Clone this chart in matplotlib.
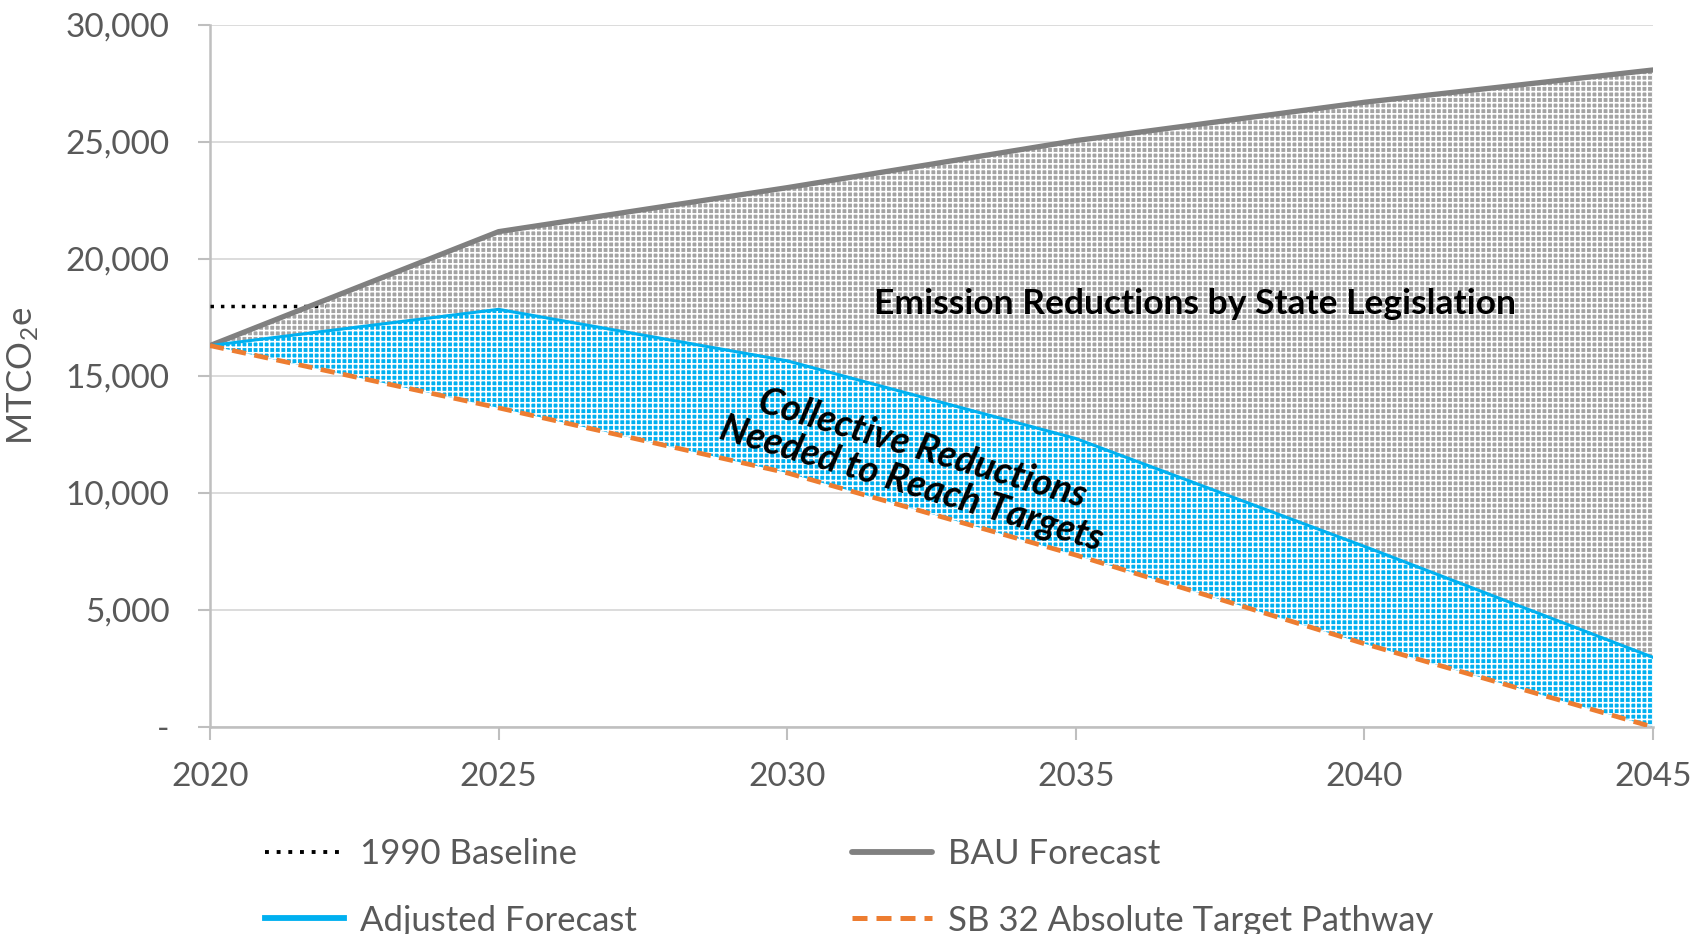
import matplotlib
matplotlib.use("Agg")
import matplotlib.pyplot as plt
from matplotlib.ticker import FuncFormatter

plt.rcParams['font.family'] = ['Lato', 'DejaVu Sans']
plt.rcParams['mathtext.fontset'] = 'custom'
plt.rcParams['mathtext.rm'] = 'Lato'
plt.rcParams['hatch.linewidth'] = 1.2

# data (MTCO2e)
years = [2020, 2025, 2030, 2035, 2040, 2045]
bau = [16300, 21170, 23050, 25060, 26700, 28080]
adjusted = [16300, 17850, 15650, 12330, 7720, 2980]
target = [16300, 13640, 10860, 7350, 3560, 0]
baseline_years = [2020, 2022]
baseline = [18000, 18000]

fig = plt.figure(figsize=(16.96, 9.34), dpi=100)
ax = fig.add_axes([0.1238, 0.2216, 0.8508, 0.7516])

# shaded bands
ax.fill_between(years, adjusted, bau, facecolor='#a3a3a3', edgecolor='white',
                hatch='+++', linewidth=0, zorder=2)
ax.fill_between(years, target, adjusted, facecolor='#00b0f0', edgecolor='white',
                hatch='+++', linewidth=0, zorder=2)

# lines
l_base, = ax.plot(baseline_years, baseline, color='black', linestyle=(0, (1, 2)),
                  lw=2.5, label='1990 Baseline', zorder=4)
l_bau, = ax.plot(years, bau, color='#808080', lw=3.8, label='BAU Forecast',
                 solid_capstyle='round', zorder=4)
l_adj, = ax.plot(years, adjusted, color='#00b0f0', lw=2.2, label='Adjusted Forecast', zorder=4)
l_tgt, = ax.plot(years, target, color='#ed7d31', lw=3.4, linestyle=(0, (3, 1.8)),
                 label='SB 32 Absolute Target Pathway', zorder=5)

ax.set_xlim(2020, 2045)
ax.set_ylim(0, 30000)
ax.set_xticks(years)
ax.set_yticks(range(0, 30001, 5000))
ax.yaxis.set_major_formatter(FuncFormatter(lambda v, p: '-' if v == 0 else f'{int(v):,}'))

ax.grid(axis='y', color='#d9d9d9', lw=1.3)
ax.set_axisbelow(True)
for s in ['top', 'right']:
    ax.spines[s].set_visible(False)
for s in ['left', 'bottom']:
    ax.spines[s].set_color('#bfbfbf')
    ax.spines[s].set_linewidth(1.8)
ax.tick_params(axis='both', colors='#bfbfbf', labelcolor='#595959', labelsize=24,
               length=9, width=1.5)
ax.tick_params(axis='y', pad=20)
ax.tick_params(axis='x', pad=16)

ax.set_ylabel('MTCO$_2$e', fontsize=25, color='#595959')
ax.yaxis.set_label_coords(-0.118, 0.5)

# annotations
ax.text(2037.07, 18080, 'Emission Reductions by State Legislation', fontsize=25.5,
        fontweight='bold', ha='center', va='center', color='black', zorder=6)
ax.text(2032.25, 11150, 'Collective Reductions\nNeeded to Reach Targets', fontsize=27,
        fontweight='bold', style='italic', ha='center', va='center', rotation=-16.5,
        rotation_mode='anchor', linespacing=1.05, color='black', zorder=6)

# legend laid out like the original: two columns, second row runs off the bottom
leg = fig.legend([l_base, l_adj, l_bau, l_tgt],
                 ['1990 Baseline', 'Adjusted Forecast', 'BAU Forecast',
                  'SB 32 Absolute Target Pathway'],
                 loc='upper left', bbox_to_anchor=(0.156, 0.103), ncol=2,
                 frameon=False, fontsize=25, borderpad=0, borderaxespad=0,
                 handlelength=2.3, handletextpad=0.45, columnspacing=6.2,
                 labelspacing=1.0)
for t in leg.get_texts():
    t.set_color('#595959')
for h, w in zip(leg.legend_handles, [2.8, 4.2, 4.2, 3.6]):
    h.set_linewidth(w)

fig.savefig('out.png', dpi=100)
